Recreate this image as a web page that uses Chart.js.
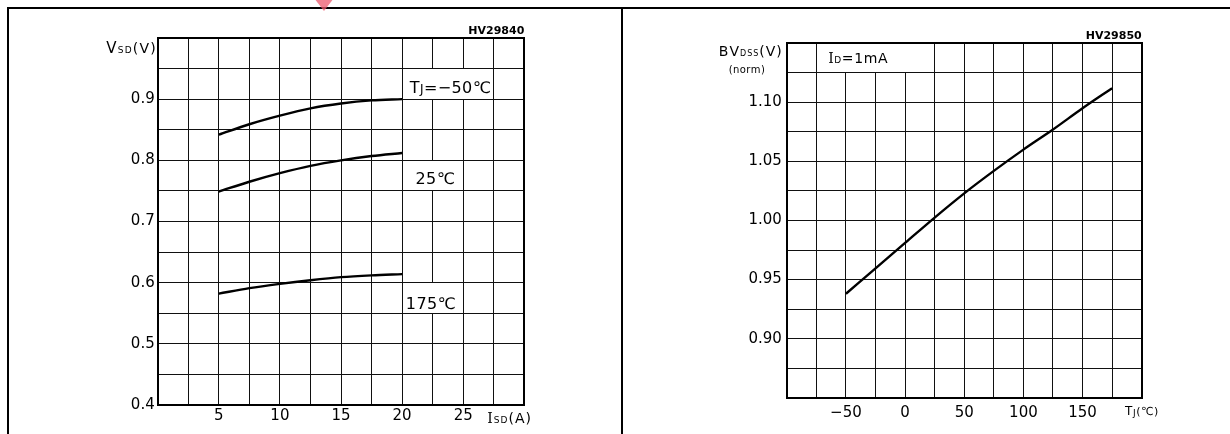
<!DOCTYPE html>
<html><head><meta charset="utf-8">
<script src="https://cdn.jsdelivr.net/npm/chart.js@4"></script>
<style>
html,body{margin:0;padding:0;background:#fff;}
#wrap{position:relative;width:1230px;height:434px;overflow:hidden;background:#fff;}
canvas{position:absolute;top:0;}
.ln{position:absolute;background:#000;}
#mark{position:absolute;left:314px;top:-2px;width:0;height:0;border-left:10px solid transparent;border-right:10px solid transparent;border-top:13px solid rgba(235,90,110,0.75);}
</style></head><body>
<div id="wrap">
<canvas id="c1" width="615" height="434" style="left:0"></canvas>
<canvas id="c2" width="615" height="434" style="left:615px"></canvas>
<div class="ln" style="left:7px;top:7px;width:1223px;height:2px"></div>
<div class="ln" style="left:7px;top:7px;width:2px;height:427px"></div>
<div class="ln" style="left:621px;top:7px;width:2px;height:427px"></div>
<div id="mark"></div>
</div>
<script>
// ---- data: left chart (VSD vs ISD) ----
const isdA = [5, 7.5, 10, 12.5, 15, 17.5, 20];
const vsdMinus50 = [0.842, 0.859, 0.873, 0.885, 0.893, 0.898, 0.900];
const vsd25 = [0.749, 0.765, 0.779, 0.791, 0.800, 0.807, 0.812];
const vsd175 = [0.582, 0.591, 0.598, 0.604, 0.609, 0.612, 0.614];
const leftXTicks = [5, 10, 15, 20, 25];
const leftYTicks = [0.4, 0.5, 0.6, 0.7, 0.8, 0.9];
// ---- data: right chart (BVDSS norm vs TJ) ----
const tjC = [-50, -25, 0, 25, 50, 75, 100, 125, 150, 175];
const bvdssNorm = [0.938, 0.9595, 0.981, 1.0025, 1.023, 1.042, 1.060, 1.077, 1.095, 1.112];
const rightXTicks = [-50, 0, 50, 100, 150];
const rightYTicks = [0.90, 0.95, 1.00, 1.05, 1.10];

const SANS = '"DejaVu Sans", sans-serif';
const SERIF = '"DejaVu Serif", "Liberation Serif", serif';
const TICK_FONT = {family: SANS, size: 15, weight: 'normal'};
const THIN = 'normal';

function drawRich(ctx, segs, x, y, align, ls) {
  ls = ls || 0;
  const items = []; let total = 0;
  segs.forEach(s => {
    const font = `${s.weight || THIN} ${s.size}px ${s.family || SANS}`;
    ctx.font = font;
    for (const ch of s.t) {
      const w = ctx.measureText(ch).width;
      items.push({ch, font, w, dy: s.dy || 0});
      total += w + ls;
    }
  });
  total -= ls;
  let cx = align === 'right' ? x - total : (align === 'center' ? x - total / 2 : x);
  ctx.save(); ctx.fillStyle = '#000'; ctx.textBaseline = 'alphabetic'; ctx.textAlign = 'left';
  items.forEach(it => { ctx.font = it.font; ctx.fillText(it.ch, cx, y + it.dy); cx += it.w + ls; });
  ctx.restore();
}

function alignLine(p) { return Math.round(p - 0.5) + 0.5; }

function makePlugin(cfg) {
  return {
    id: 'deco',
    beforeDatasetsDraw(chart) {
      const ctx = chart.ctx, xs = chart.scales.x, ys = chart.scales.y;
      ctx.save(); ctx.fillStyle = '#fff';
      cfg.boxes.forEach(b => {
        const l = alignLine(xs.getPixelForValue(b.x1)) + 0.5;
        const r = alignLine(xs.getPixelForValue(b.x2)) - 0.5;
        const t = alignLine(ys.getPixelForValue(b.y2)) + 0.5;
        const bt = alignLine(ys.getPixelForValue(b.y1)) - 0.5;
        ctx.fillRect(l, t, r - l, bt - t);
      });
      ctx.restore();
    },
    afterDatasetsDraw(chart) {
      const ctx = chart.ctx, a = chart.chartArea, xs = chart.scales.x, ys = chart.scales.y;
      ctx.save();
      ctx.strokeStyle = '#000'; ctx.lineWidth = 2;
      ctx.strokeRect(Math.round(a.left), Math.round(a.top), Math.round(a.right) - Math.round(a.left), Math.round(a.bottom) - Math.round(a.top));
      ctx.restore();
      ctx.save(); ctx.fillStyle = '#000'; ctx.font = `bold 11px ${SANS}`; ctx.textAlign = 'right'; ctx.textBaseline = 'alphabetic';
      ctx.fillText(cfg.code, a.right, a.top - 4);
      ctx.restore();
      cfg.texts.forEach(tx => {
        let x, y;
        if (tx.data) { x = xs.getPixelForValue(tx.x); y = ys.getPixelForValue(tx.y) + tx.base; }
        else { x = a[tx.ax] + tx.dx; y = a[tx.ay] + tx.dy; }
        drawRich(ctx, tx.segs, x, y, tx.align, tx.ls);
      });
    }
  };
}

function lineDs(xv, yv) {
  return {data: xv.map((x, i) => ({x, y: yv[i]})), borderColor: '#000', borderWidth: 2.4,
          pointRadius: 0, fill: false, cubicInterpolationMode: 'monotone'};
}

function baseOpts(p) {
  return {
    responsive: false, animation: false, events: [],
    layout: {padding: {left: 0, top: p.top, right: p.right, bottom: 0}},
    plugins: {legend: {display: false}, tooltip: {enabled: false}},
    scales: {
      x: {type: 'linear', min: p.xmin, max: p.xmax,
          afterFit(s) { s.height = p.xh; },
          border: {display: false},
          grid: {color: '#111', lineWidth: 1, drawTicks: false},
          ticks: {stepSize: p.xstep, autoSkip: false, maxRotation: 0, minRotation: 0, padding: p.xpad,
                  font: TICK_FONT, color: '#000',
                  callback: v => { const m = p.xt.find(t => Math.abs(t - v) < 1e-6); return m === undefined ? '' : (m < 0 ? '\u2212' + (-m) : String(m)); }}},
      y: {type: 'linear', min: p.ymin, max: p.ymax,
          afterFit(s) { s.width = p.yw; },
          border: {display: false},
          grid: {color: '#111', lineWidth: 1, drawTicks: false},
          ticks: {stepSize: p.ystep, autoSkip: false, padding: p.ypad, font: TICK_FONT, color: '#000',
                  callback: v => { const m = p.yt.find(t => Math.abs(t - v) < 1e-6); return m === undefined ? '' : m.toFixed(p.ydec); }}}
    }
  };
}

new Chart(document.getElementById('c1'), {
  type: 'line',
  data: {datasets: [lineDs(isdA, vsdMinus50), lineDs(isdA, vsd25), lineDs(isdA, vsd175)]},
  options: baseOpts({top: 38, right: 90.7, xmin: 0, xmax: 30, xstep: 2.5, xh: 29, xpad: 2.5, xt: leftXTicks,
                     ymin: 0.4, ymax: 1.0, ystep: 0.05, yw: 157.7, ypad: 3, yt: leftYTicks, ydec: 1}),
  plugins: [makePlugin({
    code: 'HV29840',
    boxes: [{x1: 20, x2: 27.5, y1: 0.9, y2: 0.95}, {x1: 20, x2: 25, y1: 0.75, y2: 0.8}, {x1: 20, x2: 25, y1: 0.55, y2: 0.6}],
    texts: [
      {data: true, x: 23.94, y: 0.92, base: 6, align: 'center', ls: 0.4,
       segs: [{t: 'T', size: 16}, {t: 'J', size: 12}, {t: '=\u221250\u2103', size: 16}]},
      {data: true, x: 22.7, y: 0.7706, base: 6, align: 'center', ls: 0.4, segs: [{t: '25\u2103', size: 16}]},
      {data: true, x: 22.34, y: 0.5663, base: 6, align: 'center', ls: 0.4, segs: [{t: '175\u2103', size: 16}]},
      {ax: 'left', ay: 'top', dx: -2, dy: 15, align: 'right', ls: 1.2,
       segs: [{t: 'V', size: 15}, {t: 'SD', size: 9}, {t: '(V)', size: 14}]},
      {ax: 'right', ay: 'bottom', dx: -37, dy: 18, align: 'left', ls: 1,
       segs: [{t: 'I', size: 14, family: SERIF}, {t: 'SD', size: 9}, {t: '(A)', size: 14}]}
    ]
  })]
});

new Chart(document.getElementById('c2'), {
  type: 'line',
  data: {datasets: [lineDs(tjC, bvdssNorm)]},
  options: baseOpts({top: 43.3, right: 88.3, xmin: -100, xmax: 200, xstep: 25, xh: 36.3, xpad: 6, xt: rightXTicks,
                     ymin: 0.85, ymax: 1.15, ystep: 0.025, yw: 171.8, ypad: 5, yt: rightYTicks, ydec: 2}),
  plugins: [makePlugin({
    code: 'HV29850',
    boxes: [{x1: -75, x2: 25, y1: 1.125, y2: 1.15}],
    texts: [
      {data: true, x: -65, y: 1.1373, base: 5, align: 'left', ls: 0.6,
       segs: [{t: 'I', size: 14, family: SERIF}, {t: 'D', size: 9}, {t: '=1mA', size: 14}]},
      {ax: 'left', ay: 'top', dx: -5, dy: 12.7, align: 'right', ls: 1,
       segs: [{t: 'BV', size: 14}, {t: 'DSS', size: 8}, {t: '(V)', size: 14}]},
      {ax: 'left', ay: 'top', dx: -40, dy: 30, align: 'center', ls: 0.4, segs: [{t: '(norm)', size: 10}]},
      {ax: 'right', ay: 'bottom', dx: -16.7, dy: 17.3, align: 'left', ls: 0.6,
       segs: [{t: 'T', size: 12}, {t: 'J', size: 9, dy: 1}, {t: '(\u2103)', size: 11}]}
    ]
  })]
});
</script>
</body></html>
